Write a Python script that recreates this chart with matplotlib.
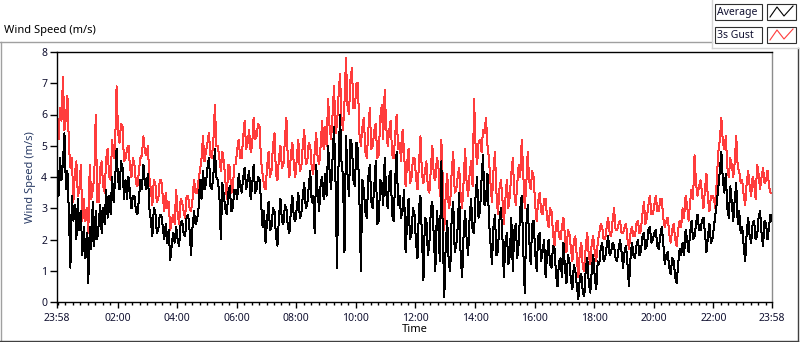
import numpy as np
import matplotlib
matplotlib.use("Agg")
import matplotlib.pyplot as plt
from matplotlib.patches import Rectangle
from matplotlib.lines import Line2D

plt.rcParams['font.family'] = ['Noto Sans', 'DejaVu Sans']

# sample every 3 minutes, starting at 23:58 (elapsed minutes), one row per hour
step_min = 3

average = [
    4.1, 3.4, 4.6, 3.9, 4.5, 5.4, 3.6, 4.2, 2.8, 1.1, 3.4, 2.6, 3.1, 2.0, 3.3, 2.3, 2.9, 1.5, 2.4, 1.4,
    2.2, 0.6, 2.4, 1.7, 3.2, 1.8, 2.9, 2.0, 2.5, 3.1, 2.2, 3.0, 2.5, 3.6, 2.7, 3.4, 2.8, 4.0, 3.2, 3.9,
    4.9, 3.9, 3.6, 4.5, 4.3, 3.3, 3.9, 3.3, 4.0, 3.5, 3.0, 3.4, 3.4, 2.9, 2.8, 3.3, 3.9, 3.6, 4.4, 3.8,
    3.6, 4.1, 3.0, 2.6, 2.1, 3.0, 2.9, 2.2, 2.3, 2.8, 2.8, 2.4, 2.0, 2.5, 1.9, 2.3, 1.35, 1.8, 2.2, 1.9,
    2.4, 2.0, 1.8, 2.5, 2.6, 2.2, 2.1, 2.7, 2.8, 2.3, 1.5, 2.4, 2.9, 2.5, 2.6, 3.0, 3.9, 3.3, 4.2, 3.6,
    3.8, 4.3, 4.6, 3.7, 3.6, 4.1, 4.9, 4.0, 3.9, 3.4, 2.0, 3.8, 3.4, 3.0, 2.8, 3.5, 3.7, 2.9, 3.0, 3.6,
    3.6, 3.3, 4.1, 3.7, 3.5, 4.0, 4.3, 3.6, 3.9, 4.2, 3.3, 3.7, 4.4, 3.5, 3.6, 4.0, 3.9, 3.2, 2.4, 2.9,
    1.9, 2.6, 3.2, 2.3, 2.4, 3.0, 2.9, 2.1, 1.8, 2.7, 3.3, 2.6, 2.5, 3.1, 3.0, 2.4, 2.2, 2.9, 3.4, 2.7,
    2.6, 3.0, 3.5, 2.7, 2.8, 3.4, 3.8, 3.0, 3.1, 3.7, 4.2, 3.2, 3.4, 2.2, 4.4, 3.5, 2.9, 3.8, 4.0, 3.3,
    4.1, 3.4, 5.0, 4.2, 3.6, 4.6, 5.6, 3.8, 1.1, 4.4, 6.0, 4.5, 4.0, 1.6, 5.3, 4.1, 3.4, 5.2, 5.0, 3.9,
    3.7, 5.1, 4.9, 3.3, 1.0, 3.9, 3.6, 2.9, 2.7, 4.0, 4.4, 3.2, 3.0, 3.7, 4.5, 2.5, 2.6, 3.9, 3.8, 3.1,
    4.6, 3.5, 3.0, 4.0, 4.2, 2.8, 2.6, 3.9, 4.8, 3.1, 3.4, 2.7, 2.9, 3.6, 1.6, 2.5, 3.3, 2.0, 2.2, 3.0,
    2.8, 1.9, 1.4, 3.0, 3.4, 2.1, 0.7, 2.7, 2.6, 1.5, 1.9, 3.0, 3.2, 2.0, 1.0, 2.9, 2.4, 1.3, 4.5, 2.2,
    0.15, 1.9, 2.6, 1.2, 1.0, 2.8, 3.2, 1.6, 1.8, 2.4, 3.5, 1.4, 0.8, 2.2, 2.9, 2.0, 1.5, 2.7, 3.3, 2.3,
    2.2, 3.4, 4.0, 2.7, 2.9, 3.9, 4.7, 3.1, 3.3, 4.1, 2.6, 1.9, 1.2, 2.4, 2.8, 1.5, 1.6, 2.6, 3.0, 2.1,
    0.8, 1.9, 2.2, 1.2, 1.5, 2.7, 1.0, 2.3, 2.5, 1.4, 1.9, 3.0, 3.4, 1.7, 0.3, 2.4, 3.1, 2.0, 1.2, 2.5,
    2.6, 1.6, 1.0, 2.1, 2.2, 1.3, 1.6, 2.0, 0.8, 1.5, 2.0, 1.2, 1.1, 1.8, 1.7, 0.9, 0.5, 1.3, 1.4, 0.8,
    1.9, 1.1, 0.6, 1.5, 1.3, 0.7, 0.4, 1.2, 1.0, 0.5, 0.1, 0.8, 0.9, 0.3, 0.2, 1.1, 1.4, 0.6, 0.3, 1.0,
    1.5, 0.8, 0.4, 1.3, 1.2, 1.7, 1.9, 1.3, 1.4, 1.8, 2.1, 1.5, 1.6, 1.9, 1.8, 1.4, 1.3, 1.7, 2.0, 1.6,
    1.1, 1.6, 1.8, 1.2, 0.5, 1.4, 1.9, 1.5, 1.4, 1.8, 2.0, 1.5, 1.6, 2.1, 2.2, 1.7, 1.8, 2.3, 2.4, 1.9,
    2.0, 2.2, 2.3, 1.8, 1.7, 2.1, 2.4, 1.9, 1.2, 1.5, 1.6, 1.1, 0.9, 1.4, 1.3, 0.8, 0.6, 1.2, 1.7, 1.5,
    1.9, 1.5, 2.3, 2.0, 1.6, 2.2, 2.6, 2.0, 2.1, 2.5, 2.8, 2.3, 2.3, 2.6, 2.7, 2.2, 1.6, 2.1, 2.5, 1.9,
    2.0, 2.4, 2.8, 3.2, 3.7, 4.2, 4.8, 3.9, 3.5, 4.1, 3.0, 2.7, 3.7, 3.2, 2.6, 3.3, 3.8, 2.5, 2.9, 2.2,
    2.4, 1.8, 1.3, 2.2, 2.7, 2.1, 1.9, 2.5, 2.6, 2.0, 2.1, 2.7, 2.9, 2.2, 1.8, 2.6, 2.5, 2.0, 2.4, 2.8,
    2.6,
]

gust = [
    5.6, 5.2, 6.2, 5.8, 7.2, 5.5, 5.9, 6.6, 5.0, 4.3, 4.6, 3.2, 4.1, 4.5, 3.4, 3.6, 4.4, 2.6, 3.3, 2.6,
    3.0, 2.2, 4.4, 3.3, 3.6, 4.0, 6.0, 3.2, 3.2, 4.3, 4.5, 3.7, 3.5, 4.6, 4.9, 4.0, 3.9, 5.2, 4.6, 5.0,
    6.9, 5.4, 5.1, 5.7, 5.6, 4.5, 4.6, 4.9, 5.0, 4.3, 4.0, 4.6, 4.4, 3.8, 3.7, 4.2, 4.6, 4.7, 5.3, 4.8,
    4.7, 5.0, 4.0, 3.6, 3.1, 3.9, 3.8, 3.2, 3.3, 3.9, 3.9, 3.4, 2.9, 3.5, 3.0, 3.2, 2.3, 2.6, 2.8, 2.5,
    3.6, 2.8, 2.5, 3.3, 3.2, 2.9, 2.7, 3.4, 3.4, 3.0, 2.9, 3.3, 3.9, 3.5, 3.5, 3.9, 4.2, 4.6, 5.3, 4.5,
    4.8, 5.1, 5.4, 4.7, 4.6, 5.2, 6.3, 5.0, 5.0, 4.6, 4.2, 4.8, 4.5, 3.9, 3.3, 4.4, 4.3, 3.5, 3.6, 4.4,
    4.4, 4.9, 5.2, 4.6, 4.6, 5.3, 5.8, 4.9, 5.1, 5.5, 4.8, 5.0, 5.9, 5.2, 5.3, 5.7, 5.6, 4.5, 4.1, 3.7,
    3.6, 4.3, 4.8, 4.0, 4.2, 5.0, 5.4, 4.1, 3.9, 4.6, 5.0, 4.3, 4.4, 5.2, 5.9, 4.5, 4.0, 4.7, 5.1, 4.4,
    4.0, 4.6, 5.2, 4.2, 4.3, 5.0, 5.5, 4.4, 4.5, 5.1, 5.0, 4.3, 4.1, 4.8, 5.4, 4.6, 4.4, 5.0, 5.8, 4.9,
    5.6, 5.0, 6.5, 5.6, 5.2, 6.0, 6.9, 5.4, 5.7, 6.6, 7.3, 5.9, 5.5, 6.4, 7.8, 6.3, 6.0, 7.1, 7.5, 6.2,
    6.2, 7.0, 7.0, 5.4, 5.0, 5.6, 5.9, 4.8, 4.6, 5.5, 6.2, 4.9, 5.0, 5.5, 5.7, 4.6, 4.7, 5.9, 6.3, 5.2,
    6.8, 5.6, 5.0, 5.5, 5.8, 4.7, 4.6, 5.3, 6.0, 4.9, 5.1, 4.5, 5.5, 4.8, 3.7, 4.4, 4.9, 3.8, 4.0, 4.6,
    4.6, 4.0, 3.6, 4.4, 5.3, 4.1, 3.8, 4.2, 4.5, 3.6, 3.5, 4.3, 5.0, 4.0, 3.9, 4.6, 4.4, 3.4, 5.2, 3.9,
    2.3, 3.5, 4.1, 3.0, 3.2, 4.2, 4.8, 3.5, 3.6, 4.0, 4.3, 3.4, 3.0, 3.9, 4.9, 3.8, 3.4, 4.1, 4.5, 3.7,
    6.5, 5.0, 4.4, 5.1, 5.2, 4.8, 5.5, 5.4, 5.9, 5.0, 4.6, 3.8, 3.2, 4.2, 4.8, 3.5, 2.8, 3.6, 3.9, 3.3,
    2.5, 3.3, 3.9, 3.0, 3.4, 4.1, 4.6, 3.5, 3.1, 3.8, 4.4, 4.0, 5.2, 4.1, 3.0, 3.7, 4.8, 3.9, 3.6, 4.2,
    4.0, 3.1, 2.6, 3.2, 3.5, 2.9, 2.8, 3.3, 3.3, 2.7, 2.4, 3.0, 2.9, 2.2, 1.8, 2.5, 2.6, 2.1, 2.0, 2.4,
    2.7, 2.1, 1.6, 2.3, 2.2, 1.7, 1.3, 2.0, 2.1, 1.4, 0.8, 1.6, 1.9, 1.1, 1.0, 1.8, 2.2, 1.5, 1.2, 1.9,
    2.1, 1.6, 1.3, 1.9, 2.2, 2.5, 2.4, 2.0, 2.0, 2.4, 2.7, 2.2, 2.1, 2.6, 3.0, 2.3, 2.3, 2.5, 2.6, 2.2,
    2.2, 2.4, 2.5, 2.0, 1.7, 2.2, 2.4, 2.1, 2.1, 2.5, 2.6, 2.2, 2.3, 2.8, 3.2, 2.5, 2.7, 3.1, 3.4, 2.8,
    2.8, 3.1, 3.4, 2.9, 2.9, 3.3, 3.3, 2.7, 2.4, 2.6, 2.7, 2.2, 1.9, 2.3, 2.5, 2.0, 1.8, 2.3, 2.6, 2.4,
    3.0, 2.7, 3.4, 3.1, 2.6, 3.2, 3.6, 3.3, 4.7, 3.8, 3.4, 3.7, 3.9, 3.5, 3.0, 3.6, 4.1, 3.3, 2.9, 3.4,
    3.4, 3.3, 3.0, 4.0, 4.8, 5.2, 5.9, 5.1, 4.9, 5.3, 4.3, 4.0, 4.6, 4.4, 4.0, 4.5, 5.3, 4.3, 4.2, 3.8,
    3.9, 3.4, 3.1, 3.8, 4.2, 3.7, 3.4, 4.0, 3.8, 3.3, 4.4, 4.1, 3.6, 4.0, 4.3, 3.8, 3.9, 4.2, 3.7, 3.5,
    3.5,
]

tick_labels = ['23:58', '02:00', '04:00', '06:00', '08:00', '10:00', '12:00',
               '14:00', '16:00', '18:00', '20:00', '22:00', '23:58']
series_names = ['Average', '3s Gust']
series_colors = ['black', '#ff3c3c']

minutes = np.arange(len(average)) * step_min

W, H = 800, 342
fig = plt.figure(figsize=(W / 100, H / 100), dpi=100)
fig.patch.set_facecolor('white')

def fx(px):
    return px / W

def fy(py):
    return 1 - py / H

ax = fig.add_axes([fx(57), fy(302), fx(772) - fx(57), fy(52) - fy(302)])
# LabVIEW draws plots as crisp 1 px lines
ax.plot(minutes, average, color=series_colors[0], lw=0.72, antialiased=False, zorder=3)
ax.plot(minutes, gust, color=series_colors[1], lw=0.72, antialiased=False, zorder=2)

ax.set_xlim(0, 1440)
ax.set_ylim(0, 8)
ax.set_yticks(range(0, 9))

# major ticks every 2 h on clock time (first one at the start 23:58)
major = [0] + [2 + 120 * k for k in range(1, 12)] + [1440]
ax.set_xticks(major)
ax.set_xticklabels(tick_labels)
ax.set_xticks([2 + 15 * k for k in range(96)], minor=True)

ax.tick_params(axis='x', which='major', length=4, width=1, pad=4,
               labelsize=7.5, colors='black')
ax.tick_params(axis='x', which='minor', length=2.5, width=1)
ax.tick_params(axis='y', length=5, width=1, pad=2, labelsize=7.5)
for lab in ax.get_xticklabels() + ax.get_yticklabels():
    lab.set_color('#101030')

for s in ['left', 'bottom', 'top']:
    ax.spines[s].set_color('black')
    ax.spines[s].set_linewidth(1)
ax.spines['right'].set_color('#8c8c8c')
ax.spines['right'].set_linewidth(1)

ax.set_ylabel('Wind Speed (m/s)', fontsize=8, color='#2a3c66', labelpad=4)
ax.set_xlabel('Time', fontsize=8, color='black', labelpad=0)

# chart title and outer frame
fig.text(fx(4), fy(30), 'Wind Speed (m/s)', fontsize=8, ha='left', va='center')
fig.add_artist(Line2D([fx(0), fx(712)], [fy(42), fy(42)], color='#a0a0a0', lw=1))
fig.add_artist(Line2D([fx(0.5), fx(0.5)], [fy(42), fy(341)], color='#a0a0a0', lw=1))
fig.add_artist(Line2D([fx(0), fx(798)], [fy(341), fy(341)], color='#404040', lw=1))
fig.add_artist(Line2D([fx(798), fx(798)], [fy(48), fy(341)], color='#404040', lw=1))

# legend panel
fig.add_artist(Line2D([fx(712), fx(712)], [fy(0), fy(48)], color='#d4d4d4', lw=1))
fig.add_artist(Line2D([fx(712), fx(800)], [fy(48), fy(48)], color='#d4d4d4', lw=1))
for i, (name, col) in enumerate(zip(series_names, series_colors)):
    top = 4 + i * 23
    fig.add_artist(Rectangle((fx(715), fy(top + 16)), fx(762) - fx(715),
                             fy(top) - fy(top + 16), facecolor='white',
                             edgecolor='#303030', lw=0.8))
    fig.text(fx(717), fy(top + 8), name, fontsize=7.5, ha='left', va='center',
             color='#101030')
    fig.add_artist(Rectangle((fx(767), fy(top + 16)), fx(796) - fx(767),
                             fy(top) - fy(top + 16), facecolor='white',
                             edgecolor='#303030', lw=0.8))
    fig.add_artist(Line2D([fx(770), fx(777), fx(784), fx(793)],
                          [fy(top + 13), fy(top + 3), fy(top + 12), fy(top + 2)],
                          color=col, lw=0.8))

fig.savefig('out.png', dpi=100)
